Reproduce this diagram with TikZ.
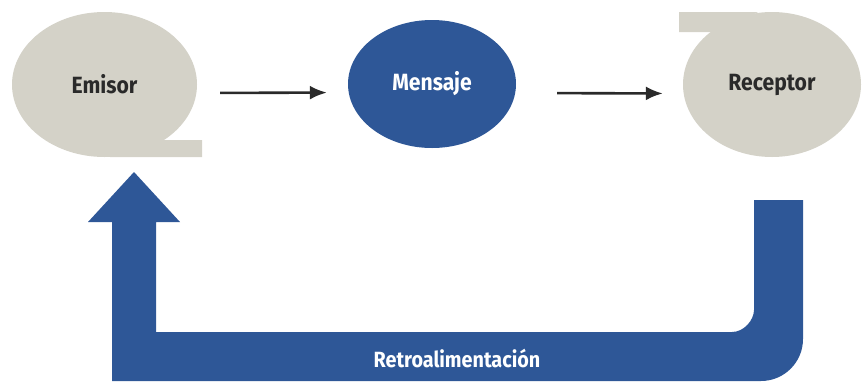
\documentclass[tikz,border=0pt]{standalone}
\usepackage{fontspec}
\setmainfont{Fira Sans}[FakeStretch=0.9]
\usetikzlibrary{shapes.geometric,arrows.meta}
\definecolor{bubble}{HTML}{D4D2C8}
\definecolor{navy}{HTML}{2E5797}
\definecolor{ink}{HTML}{2A2A2A}
\tikzset{
  bubblenode/.style={ellipse, fill=bubble, inner sep=0pt, text=ink,
    font=\bfseries\fontsize{23.5}{23.5}\selectfont},
  bluenode/.style={ellipse, fill=navy, inner sep=0pt, text=white,
    font=\bfseries\fontsize{23.5}{23.5}\selectfont},
  arr/.style={draw=ink, line width=2.6pt, -{Latex[length=17pt,width=14pt]}},
}
\begin{document}
\begin{tikzpicture}[x=1pt,y=-1pt]
\useasboundingbox (0,0) rectangle (862,381);
% Emisor bubble
\fill[bubble] (110,157) -- (202,157) -- (202,140) -- (150,140) -- cycle;
\node[bubblenode, minimum width=185pt, minimum height=145pt] (emisor) at (104.5,84.5) {Emisor};
% Receptor bubble
\fill[bubble] (758,12) -- (679,12) -- (679,32) -- (720,32) -- cycle;
\node[bubblenode, minimum width=178pt, minimum height=145pt] (receptor) at (772,84.5) {Receptor};
% Mensaje
\node[bluenode, minimum width=168pt, minimum height=128pt] (mensaje) at (432,84) {Mensaje};
% arrows
\draw[arr, shorten <=23pt, shorten >=21pt] ([yshift=-8.5pt]emisor.east) -- ([yshift=-8.5pt]mensaje.west);
\draw[arr, shorten <=41pt, shorten >=20pt] ([yshift=-9pt]mensaje.east) -- ([yshift=-9pt]receptor.west);
% feedback arrow
\fill[navy] (112,381) -- (112,222) -- (88,222) -- (134,172) -- (180,222) -- (156,222)
  -- (156,332) -- (732,332) .. controls (744.15,332) and (754,319.85) .. (754,310)
  -- (754,200) -- (803,200) -- (803,339) .. controls (803,362.2) and (784.2,381) .. (761,381) -- cycle;
\node[text=white, font=\bfseries\fontsize{22}{22}\selectfont] (retro) at (457,358) {Retroalimentación};
\end{tikzpicture}
\end{document}
